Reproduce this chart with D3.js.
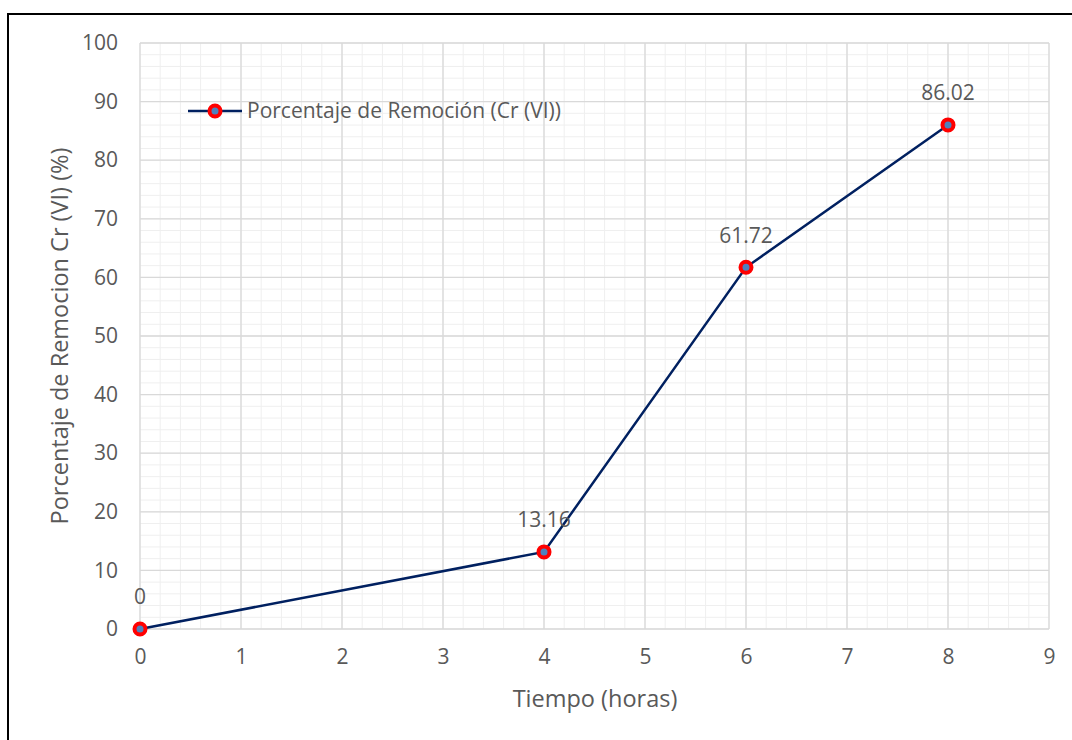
<!DOCTYPE html>
<html>
<head>
<meta charset="utf-8">
<script src="https://cdn.jsdelivr.net/npm/d3@7"></script>
<style>
  html, body { margin: 0; padding: 0; background: #fff; }
  svg { display: block; }
  text { font-family: "Open Sans", "Noto Sans", sans-serif; fill: #595959; }
</style>
</head>
<body>
<svg id="chart" width="1072" height="740"></svg>
<script>
// Removal of Cr(VI) over time
const tiempo = [0, 4, 6, 8];
const remocion = [0, 13.16, 61.72, 86.02];
const etiquetas = ["0", "13.16", "61.72", "86.02"];
const xTicks = [0, 1, 2, 3, 4, 5, 6, 7, 8, 9];
const yTicks = [0, 10, 20, 30, 40, 50, 60, 70, 80, 90, 100];
const serieNombre = "Porcentaje de Remoción (Cr (VI))";

const svg = d3.select("#chart");
const W = 1072, H = 740;

// outer frame
svg.append("rect")
  .attr("x", 8).attr("y", 14)
  .attr("width", W + 10).attr("height", H + 10)
  .attr("fill", "none").attr("stroke", "#000").attr("stroke-width", 2);

const plotL = 140, plotR = 1049, plotT = 43, plotB = 629;
const x = d3.scaleLinear().domain([0, 9]).range([plotL, plotR]);
const y = d3.scaleLinear().domain([0, 100]).range([plotB, plotT]);

// minor gridlines
const xMinor = d3.range(0, 9.0001, 0.2);
const yMinor = d3.range(0, 100.0001, 2);
const g = svg.append("g");
g.selectAll("line.xm").data(xMinor).join("line")
  .attr("x1", d => x(d)).attr("x2", d => x(d))
  .attr("y1", plotT).attr("y2", plotB)
  .attr("stroke", "#efefef").attr("stroke-width", 1);
g.selectAll("line.ym").data(yMinor).join("line")
  .attr("x1", plotL).attr("x2", plotR)
  .attr("y1", d => y(d)).attr("y2", d => y(d))
  .attr("stroke", "#efefef").attr("stroke-width", 1);

// major gridlines
g.selectAll("line.xM").data(xTicks).join("line")
  .attr("x1", d => x(d)).attr("x2", d => x(d))
  .attr("y1", plotT).attr("y2", plotB)
  .attr("stroke", "#d9d9d9").attr("stroke-width", 1.3);
g.selectAll("line.yM").data(yTicks).join("line")
  .attr("x1", plotL).attr("x2", plotR)
  .attr("y1", d => y(d)).attr("y2", d => y(d))
  .attr("stroke", "#d9d9d9").attr("stroke-width", 1.3);

// axes (labels only)
const xAxis = svg.append("g").attr("transform", `translate(0,${plotB})`)
  .call(d3.axisBottom(x).tickValues(xTicks).tickSize(0).tickPadding(20).tickFormat(d3.format("d")));
const yAxis = svg.append("g").attr("transform", `translate(${plotL},0)`)
  .call(d3.axisLeft(y).tickValues(yTicks).tickSize(0).tickPadding(22).tickFormat(d3.format("d")));
[xAxis, yAxis].forEach(a => {
  a.select(".domain").remove();
  a.selectAll("text").attr("font-size", 21).attr("fill", "#595959")
    .style("font-family", "'Open Sans', sans-serif");
});
xAxis.selectAll("text").attr("dy", "0.71em");

// axis titles
svg.append("text")
  .attr("x", 595).attr("y", 699).attr("dy", "0.35em")
  .attr("text-anchor", "middle").attr("font-size", 23.5)
  .text("Tiempo (horas)");
svg.append("text")
  .attr("transform", `translate(60,336) rotate(-90)`)
  .attr("dy", "0.35em")
  .attr("text-anchor", "middle").attr("font-size", 23.5)
  .text("Porcentaje de Remocion Cr (VI) (%)");

// series line
const pts = tiempo.map((t, i) => ({ t, v: remocion[i], lab: etiquetas[i] }));
svg.append("path").datum(pts)
  .attr("fill", "none").attr("stroke", "#002060").attr("stroke-width", 2.5)
  .attr("d", d3.line().x(d => x(d.t)).y(d => y(d.v)));

// markers
svg.selectAll("circle.mk").data(pts).join("circle")
  .attr("cx", d => x(d.t)).attr("cy", d => y(d.v))
  .attr("r", 5.5).attr("fill", "#4f81bd")
  .attr("stroke", "#ff0000").attr("stroke-width", 4);

// data labels
svg.selectAll("text.lab").data(pts).join("text")
  .attr("x", d => x(d.t)).attr("y", d => y(d.v) - 32).attr("dy", "0.35em")
  .attr("text-anchor", "middle").attr("font-size", 21)
  .text(d => d.lab);

// legend
const lg = svg.append("g");
lg.append("line").attr("x1", 188).attr("x2", 242).attr("y1", 111).attr("y2", 111)
  .attr("stroke", "#002060").attr("stroke-width", 2.5);
lg.append("circle").attr("cx", 215).attr("cy", 111).attr("r", 5.5)
  .attr("fill", "#4f81bd").attr("stroke", "#ff0000").attr("stroke-width", 4);
lg.append("text").attr("x", 247).attr("y", 111).attr("dy", "0.35em")
  .attr("font-size", 21).text(serieNombre);
</script>
</body>
</html>
